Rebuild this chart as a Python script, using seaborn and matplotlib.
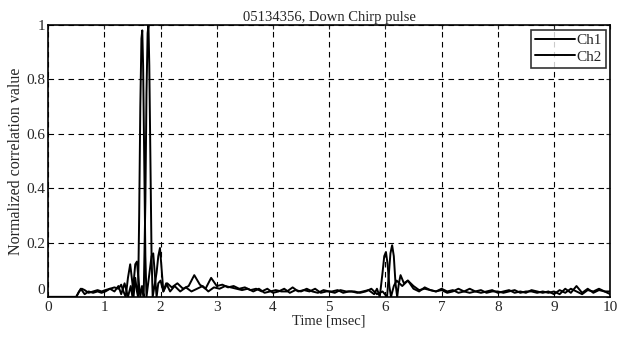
import pandas as pd
import seaborn as sns
import matplotlib
matplotlib.use('Agg')
import matplotlib.pyplot as plt

# Ch1 correlation (time in msec, normalized value)
t1 = [0, 0.3, 0.5, 0.55, 0.6, 0.65, 0.72, 0.8, 0.88, 0.95, 1.02, 1.1, 1.18, 1.25, 1.3, 1.34,
      1.38, 1.42, 1.46, 1.5, 1.52, 1.55, 1.58, 1.6, 1.62, 1.64, 1.66, 1.675, 1.69, 1.71, 1.73,
      1.75, 1.78, 1.81, 1.84, 1.87, 1.9, 1.93, 1.96, 2.0, 2.05, 2.12,
      2.2, 2.3, 2.4, 2.5, 2.6, 2.7, 2.8, 2.9, 3.0, 3.1, 3.2, 3.3, 3.4, 3.5, 3.6, 3.7, 3.8,
      3.9, 4.0, 4.1, 4.2, 4.3, 4.4, 4.5, 4.6, 4.7, 4.8, 4.9, 5.0, 5.1, 5.2, 5.3, 5.4, 5.5,
      5.6, 5.7, 5.8, 5.85, 5.9, 5.95, 5.98, 6.01, 6.04, 6.07, 6.1, 6.15, 6.2, 6.3, 6.4, 6.5,
      6.6, 6.7, 6.8, 6.9, 7.0, 7.1, 7.2, 7.3, 7.4, 7.5, 7.6, 7.7, 7.8, 7.9, 8.0, 8.1, 8.2,
      8.3, 8.4, 8.5, 8.6, 8.7, 8.8, 8.9, 9.0, 9.1, 9.2, 9.3, 9.4, 9.5, 9.6, 9.7, 9.8, 9.9, 10.0]
v1 = [0.0, 0.0, 0.0, 0.02, 0.03, 0.025, 0.015, 0.02, 0.025, 0.02, 0.025, 0.03, 0.035, 0.03,
      0.045, 0.02, 0.0, 0.07, 0.12, 0.05, 0.0, 0.07, 0.02, 0.0, 0.3, 0.7, 0.95, 0.98, 0.85,
      0.5, 0.15, 0.0, 0.05, 0.1, 0.15, 0.16, 0.08, 0.0, 0.05, 0.06, 0.02, 0.05,
      0.035, 0.05, 0.03, 0.04, 0.08, 0.045, 0.03, 0.07, 0.04, 0.045, 0.035, 0.04, 0.03, 0.035,
      0.025, 0.03, 0.02, 0.03, 0.015, 0.02, 0.03, 0.015, 0.025, 0.02, 0.03, 0.02, 0.015, 0.025,
      0.02, 0.015, 0.025, 0.02, 0.02, 0.015, 0.02, 0.025, 0.01, 0.03, 0.0, 0.09, 0.15, 0.165,
      0.12, 0.04, 0.0, 0.04, 0.06, 0.04, 0.06, 0.03, 0.02, 0.035, 0.025, 0.02, 0.03, 0.02,
      0.025, 0.015, 0.02, 0.03, 0.02, 0.015, 0.02, 0.025, 0.015, 0.02, 0.025, 0.015, 0.02,
      0.015, 0.025, 0.02, 0.015, 0.02, 0.01, 0.025, 0.015, 0.03, 0.02, 0.01, 0.025, 0.02, 0.03,
      0.02, 0.01]

# Ch2 correlation
t2 = [0, 0.3, 0.5, 0.58, 0.65, 0.72, 0.8, 0.88, 0.95, 1.02, 1.1, 1.18, 1.25, 1.3, 1.36, 1.42,
      1.47, 1.5, 1.52, 1.55, 1.58, 1.61, 1.64, 1.67, 1.7, 1.73, 1.75, 1.77, 1.785, 1.8, 1.82,
      1.84, 1.86, 1.9, 1.93, 1.96, 1.99, 2.02, 2.05, 2.1, 2.17, 2.25,
      2.35, 2.45, 2.55, 2.65, 2.75, 2.85, 2.95, 3.05, 3.15, 3.25, 3.35, 3.45, 3.55, 3.65, 3.75,
      3.85, 3.95, 4.05, 4.15, 4.25, 4.35, 4.45, 4.55, 4.65, 4.75, 4.85, 4.95, 5.05, 5.15, 5.25,
      5.35, 5.45, 5.55, 5.65, 5.75, 5.85, 5.95, 6.03, 6.06, 6.09, 6.12, 6.15, 6.18, 6.21, 6.24,
      6.27, 6.33, 6.4, 6.5, 6.6, 6.7, 6.8, 6.9, 7.0, 7.1, 7.2, 7.3, 7.4, 7.5, 7.6, 7.7, 7.8,
      7.9, 8.0, 8.1, 8.2, 8.3, 8.4, 8.5, 8.6, 8.7, 8.8, 8.9, 9.0, 9.1, 9.2, 9.3, 9.4, 9.5,
      9.6, 9.7, 9.8, 9.9, 10.0]
v2 = [0.0, 0.0, 0.0, 0.03, 0.01, 0.02, 0.015, 0.02, 0.015, 0.02, 0.03, 0.02, 0.04, 0.01, 0.05,
      0.0, 0.04, 0.0, 0.05, 0.12, 0.13, 0.06, 0.0, 0.04, 0.0, 0.35, 0.75, 0.97, 1.0, 0.85, 0.5,
      0.15, 0.0, 0.05, 0.09, 0.15, 0.18, 0.1, 0.02, 0.05, 0.02, 0.04,
      0.02, 0.035, 0.02, 0.03, 0.04, 0.02, 0.035, 0.03, 0.04, 0.035, 0.03, 0.025, 0.03, 0.02,
      0.03, 0.015, 0.02, 0.025, 0.02, 0.02, 0.035, 0.02, 0.025, 0.02, 0.03, 0.015, 0.02, 0.02,
      0.025, 0.015, 0.02, 0.02, 0.015, 0.02, 0.03, 0.01, 0.02, 0.0, 0.08, 0.16, 0.19, 0.15,
      0.05, 0.0, 0.05, 0.08, 0.05, 0.06, 0.04, 0.025, 0.03, 0.025, 0.02, 0.025, 0.015, 0.02,
      0.03, 0.02, 0.015, 0.02, 0.025, 0.015, 0.02, 0.02, 0.015, 0.02, 0.025, 0.015, 0.02, 0.02,
      0.015, 0.02, 0.015, 0.02, 0.01, 0.03, 0.015, 0.04, 0.015, 0.03, 0.015, 0.025, 0.02, 0.02]

x_ticks = [0, 1, 2, 3, 4, 5, 6, 7, 8, 9, 10]
y_ticks = [0, 0.2, 0.4, 0.6, 0.8, 1]
y_tick_labels = ['0', '0.2', '0.4', '0.6', '0.8', '1']

df = pd.concat([
    pd.DataFrame({'time': t1, 'value': v1, 'channel': 'Ch1'}),
    pd.DataFrame({'time': t2, 'value': v2, 'channel': 'Ch2'}),
])

sns.set_style('white')
plt.rcParams['font.family'] = ['Liberation Serif', 'DejaVu Serif']

fig = plt.figure(figsize=(6.17, 3.37), dpi=100)
ax = fig.add_axes([0.078, 0.119, 0.911, 0.807])

sns.lineplot(data=df, x='time', y='value', hue='channel',
             palette={'Ch1': 'black', 'Ch2': 'black'}, linewidth=1.4, ax=ax)

ax.set_xlim(0, 10)
ax.set_ylim(0, 1)
ax.set_xticks(x_ticks)
ax.set_yticks(y_ticks)
ax.set_yticklabels(y_tick_labels)
ax.tick_params(direction='in', top=True, right=True, labelsize=11, length=3)
ax.tick_params(axis='x', pad=3)
ax.tick_params(axis='y', pad=2)
# lift the y "0" a bit so it clears the x "0"
ax.get_yticklabels()[0].set_verticalalignment('bottom')
ax.grid(True, color='black', linestyle=(0, (5, 4)), linewidth=0.8)
for s in ax.spines.values():
    s.set_color('black')
    s.set_linewidth(1.2)

ax.set_title('05134356, Down Chirp pulse', fontsize=10.5, pad=3)
ax.set_xlabel('Time [msec]', fontsize=10.5, labelpad=0)
ax.set_ylabel('Normalized correlation value', fontsize=11.5, labelpad=2)

leg = ax.legend(loc='upper right', fontsize=11, frameon=True, fancybox=False,
                handlelength=2.6, handletextpad=0.1, borderpad=0.25,
                labelspacing=0.2, borderaxespad=0.3)
leg.get_frame().set_edgecolor('black')
leg.get_frame().set_linewidth(1.2)

fig.savefig('out.png', dpi=100)
